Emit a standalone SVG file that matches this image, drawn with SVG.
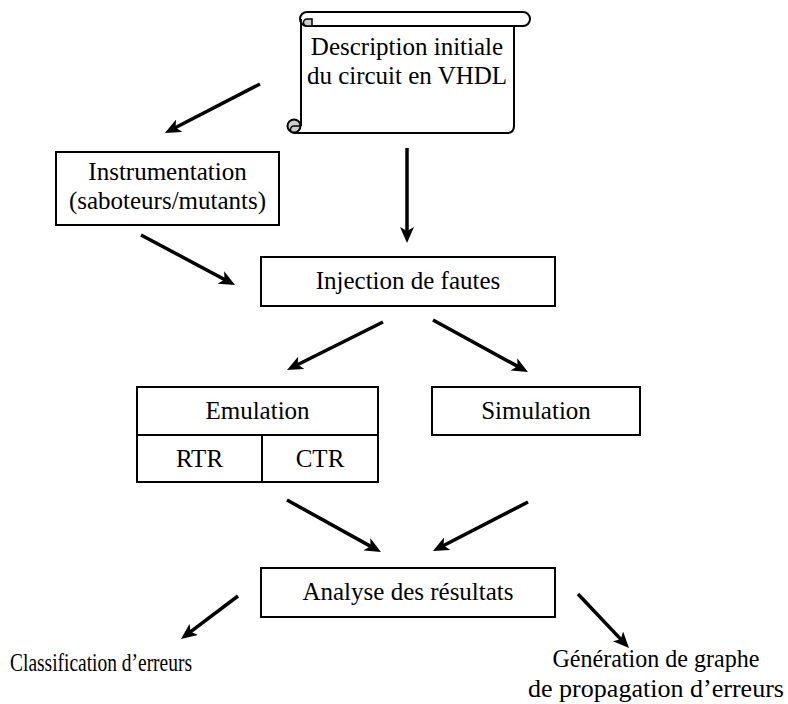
<svg xmlns="http://www.w3.org/2000/svg" width="788" height="704" viewBox="0 0 788 704">
<style>
.box{fill:#fff;stroke:#000;stroke-width:2}
.t{font-family:"Liberation Serif","Times New Roman",Times,serif;font-size:25px;fill:#000;text-anchor:middle}
.a{stroke:#000;stroke-width:3.5;fill:none;marker-end:url(#ah)}
</style>
<defs>
<marker id="ah" viewBox="0 0 16 14" refX="10" refY="7" markerWidth="16" markerHeight="14" markerUnits="userSpaceOnUse" orient="auto">
<path d="M0,0 L16,7 L0,14 L4,7 Z" fill="#000"/>
</marker>
</defs>
<rect width="788" height="704" fill="#fff"/>
<g id="scroll">
<path d="M301,19 V126 M294,133 H507 Q514,133 514,126 V26" fill="none" stroke="#000" stroke-width="2"/>
<path d="M307,12 H523 A7,7 0 0 1 523,26 H307" fill="#fff" stroke="#000" stroke-width="2"/>
<path d="M307,12 A7,7 0 0 0 307,26" fill="none" stroke="#000" stroke-width="2"/>
<path d="M307,26 A3.5,3.5 0 0 1 307,19 H312 V26 Z" fill="#ccc" stroke="#000" stroke-width="1.5"/>
<circle cx="294" cy="126" r="6.5" fill="#ccc" stroke="#000" stroke-width="2"/>
<path d="M294,133 A3.5,3.5 0 0 1 294,126 H301" fill="none" stroke="#000" stroke-width="1.5"/>
<text class="t" x="407" y="55">Description initiale</text>
<text class="t" x="407" y="84">du circuit en VHDL</text>
</g>
<g id="instrumentation">
<rect class="box" x="56" y="152" width="223" height="73"/>
<text class="t" x="167.5" y="180">Instrumentation</text>
<text class="t" x="167.5" y="209">(saboteurs/mutants)</text>
</g>
<g id="injection">
<rect class="box" x="261" y="257" width="294" height="49"/>
<text class="t" x="408" y="289">Injection de fautes</text>
</g>
<g id="emulation">
<rect class="box" x="137" y="387" width="241" height="95"/>
<line x1="137" y1="435" x2="378" y2="435" stroke="#000" stroke-width="2"/>
<line x1="262" y1="435" x2="262" y2="482" stroke="#000" stroke-width="2"/>
<text class="t" x="257.5" y="419">Emulation</text>
<text class="t" x="199.5" y="467">RTR</text>
<text class="t" x="320" y="467">CTR</text>
</g>
<g id="simulation">
<rect class="box" x="432" y="387" width="208" height="48"/>
<text class="t" x="536" y="419">Simulation</text>
</g>
<g id="analyse">
<rect class="box" x="261" y="568" width="294" height="49"/>
<text class="t" x="408" y="600">Analyse des résultats</text>
</g>
<g id="classification">
<text class="t" x="101" y="671" textLength="182" lengthAdjust="spacingAndGlyphs">Classification d’erreurs</text>
</g>
<g id="generation">
<text class="t" x="656" y="667" textLength="207" lengthAdjust="spacingAndGlyphs">Génération de graphe</text>
<text class="t" x="656" y="697" textLength="256" lengthAdjust="spacingAndGlyphs">de propagation d’erreurs</text>
</g>
<g id="connectors">
<line class="a" x1="260" y1="84" x2="170.3" y2="130.3"/>
<line class="a" x1="407" y1="148" x2="407" y2="237"/>
<line class="a" x1="141" y1="235" x2="229.7" y2="282.2"/>
<line class="a" x1="383" y1="322" x2="292.4" y2="367.3"/>
<line class="a" x1="433" y1="320" x2="522.7" y2="369.1"/>
<line class="a" x1="287" y1="500" x2="375.7" y2="549.1"/>
<line class="a" x1="528" y1="502" x2="438.3" y2="548.3"/>
<line class="a" x1="238" y1="596" x2="185.8" y2="635.4"/>
<line class="a" x1="578" y1="594" x2="624.9" y2="643.6"/>
</g>
</svg>
